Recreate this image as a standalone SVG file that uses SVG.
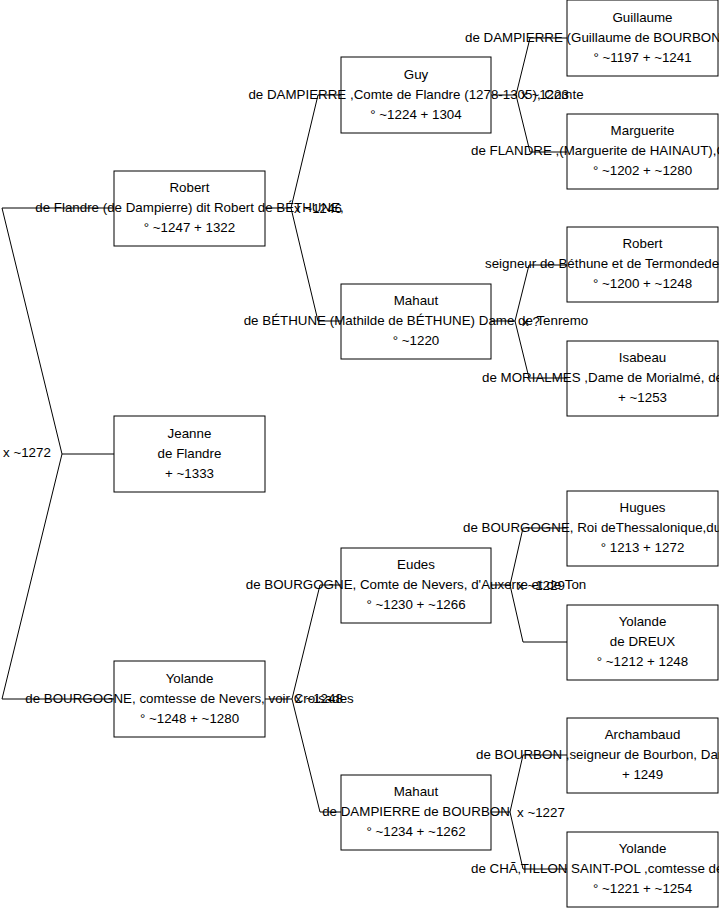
<svg xmlns="http://www.w3.org/2000/svg" width="719" height="908" viewBox="0 0 719 908">
<style>
.bx{fill:#fff;stroke:#000;stroke-width:1}
.ln{fill:none;stroke:#000;stroke-width:1}
text{font-family:"Liberation Sans",Arial,sans-serif;font-size:13.35px;fill:#000}
.c{text-anchor:middle}
</style>
<rect width="719" height="908" fill="#fff"/>
<g id="connectors">
<polyline class="ln" points="114,454 62,454 2,208 114,208"/>
<polyline class="ln" points="62,454 2,699 114,699"/>
<polyline class="ln" points="265,208 291,208 318,95 341,95"/>
<polyline class="ln" points="291,208 318,321 341,321"/>
<polyline class="ln" points="265,699 292,699 320,585 341,585"/>
<polyline class="ln" points="292,699 320,812 341,812"/>
<polyline class="ln" points="491,95 516,95 530,38 567,38"/>
<polyline class="ln" points="516,95 530,152 567,152"/>
<polyline class="ln" points="491,321 515,321 529,265 567,265"/>
<polyline class="ln" points="515,321 529,378 567,378"/>
<polyline class="ln" points="491,585 510,585 523,528 567,528"/>
<polyline class="ln" points="510,585 523,642 567,642"/>
<polyline class="ln" points="491,812 510,812 523,755 567,755"/>
<polyline class="ln" points="510,812 523,869 567,869"/>
<text x="3" y="457">x ~1272</text>
<text x="294" y="213">x ~1246</text>
<text x="295" y="703">x ~1248</text>
<text x="521" y="99">x ~1223</text>
<text x="522" y="326">x ?</text>
<text x="517" y="590">x ~1229</text>
<text x="517" y="817">x ~1227</text>
</g>
<g id="n-robert1">
<rect class="bx" x="114" y="171" width="151" height="75"/>
<text class="c" x="189.5" y="192">Robert</text>
<text class="c" x="189.5" y="212">de Flandre (de Dampierre) dit Robert de BÉTHUNE,</text>
<text class="c" x="189.5" y="232">° ~1247 + 1322</text>
</g>
<g id="n-jeanne">
<rect class="bx" x="114" y="416" width="151" height="76"/>
<text class="c" x="189.5" y="438">Jeanne</text>
<text class="c" x="189.5" y="458">de Flandre</text>
<text class="c" x="189.5" y="478">+ ~1333</text>
</g>
<g id="n-yolande1">
<rect class="bx" x="114" y="661" width="151" height="76"/>
<text class="c" x="189.5" y="683">Yolande</text>
<text class="c" x="189.5" y="703">de BOURGOGNE, comtesse de Nevers, voir Croisades</text>
<text class="c" x="189.5" y="723">° ~1248 + ~1280</text>
</g>
<g id="n-guy">
<rect class="bx" x="341" y="57" width="150" height="76"/>
<text class="c" x="416" y="79">Guy</text>
<text class="c" x="416" y="99">de DAMPIERRE ,Comte de Flandre (1278-1305), Comte</text>
<text class="c" x="416" y="119">° ~1224 + 1304</text>
</g>
<g id="n-mahaut1">
<rect class="bx" x="341" y="284" width="150" height="75"/>
<text class="c" x="416" y="305">Mahaut</text>
<text class="c" x="416" y="325">de BÉTHUNE (Mathilde de BÉTHUNE) Dame de Tenremo</text>
<text class="c" x="416" y="345">° ~1220</text>
</g>
<g id="n-eudes">
<rect class="bx" x="341" y="548" width="150" height="75"/>
<text class="c" x="416" y="569">Eudes</text>
<text class="c" x="416" y="589">de BOURGOGNE, Comte de Nevers, d'Auxerre et de Ton</text>
<text class="c" x="416" y="609">° ~1230 + ~1266</text>
</g>
<g id="n-mahaut2">
<rect class="bx" x="341" y="775" width="150" height="75"/>
<text class="c" x="416" y="796">Mahaut</text>
<text class="c" x="416" y="816">de DAMPIERRE de BOURBON</text>
<text class="c" x="416" y="836">° ~1234 + ~1262</text>
</g>
<g id="n-guillaume">
<rect class="bx" x="567" y="0" width="151" height="76"/>
<text class="c" x="642.5" y="22">Guillaume</text>
<text x="465" y="42">de DAMPIERRE (Guillaume de BOURBON</text>
<text class="c" x="642.5" y="62">° ~1197 + ~1241</text>
</g>
<g id="n-marguerite">
<rect class="bx" x="567" y="114" width="151" height="75"/>
<text class="c" x="642.5" y="135">Marguerite</text>
<text x="471" y="155">de FLANDRE ,(Marguerite de HAINAUT),C</text>
<text class="c" x="642.5" y="175">° ~1202 + ~1280</text>
</g>
<g id="n-robert2">
<rect class="bx" x="567" y="227" width="151" height="75"/>
<text class="c" x="642.5" y="248">Robert</text>
<text x="485" y="268">seigneur de Béthune et de Termondede</text>
<text class="c" x="642.5" y="288">° ~1200 + ~1248</text>
</g>
<g id="n-isabeau">
<rect class="bx" x="567" y="341" width="151" height="75"/>
<text class="c" x="642.5" y="362">Isabeau</text>
<text x="482" y="382">de MORIALMES ,Dame de Morialmé, de</text>
<text class="c" x="642.5" y="402">+ ~1253</text>
</g>
<g id="n-hugues">
<rect class="bx" x="567" y="491" width="151" height="75"/>
<text class="c" x="642.5" y="512">Hugues</text>
<text x="463" y="532">de BOURGOGNE, Roi deThessalonique,du</text>
<text class="c" x="642.5" y="552">° 1213 + 1272</text>
</g>
<g id="n-yolande2">
<rect class="bx" x="567" y="605" width="151" height="75"/>
<text class="c" x="642.5" y="626">Yolande</text>
<text class="c" x="642.5" y="646">de DREUX</text>
<text class="c" x="642.5" y="666">° ~1212 + 1248</text>
</g>
<g id="n-archambaud">
<rect class="bx" x="567" y="718" width="151" height="75"/>
<text class="c" x="642.5" y="739">Archambaud</text>
<text x="476" y="759">de BOURBON ,seigneur de Bourbon, Dam</text>
<text class="c" x="642.5" y="779">+ 1249</text>
</g>
<g id="n-yolande3">
<rect class="bx" x="567" y="832" width="151" height="75"/>
<text class="c" x="642.5" y="853">Yolande</text>
<text x="471" y="873">de CHÃ‚TILLON SAINT-POL ,comtesse de</text>
<text class="c" x="642.5" y="893">° ~1221 + ~1254</text>
</g>
</svg>
